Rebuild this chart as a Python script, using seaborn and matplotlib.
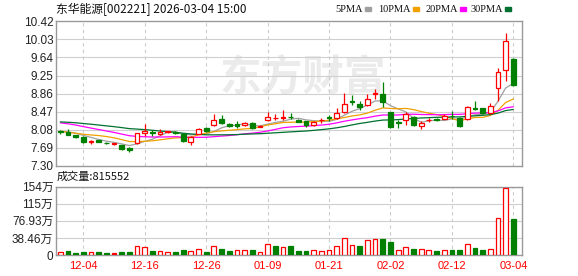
import numpy as np
import pandas as pd
import matplotlib
matplotlib.use('Agg')
import matplotlib.pyplot as plt
from matplotlib.patches import Rectangle
import seaborn as sns

# 交易日
dates = ['12-01', '12-02', '12-03', '12-04', '12-05', '12-08', '12-09', '12-10', '12-11', '12-12',
         '12-15', '12-16', '12-17', '12-18', '12-19', '12-22', '12-23', '12-24', '12-25', '12-26',
         '12-29', '12-30', '12-31', '01-05', '01-06', '01-07', '01-08', '01-09', '01-12', '01-13',
         '01-14', '01-15', '01-16', '01-19', '01-20', '01-21', '01-22', '01-23', '01-26', '01-27',
         '01-28', '01-29', '01-30', '02-02', '02-03', '02-04', '02-05', '02-06', '02-09', '02-10',
         '02-11', '02-12', '02-13', '02-24', '02-25', '02-26', '02-27', '03-02', '03-03', '03-04']

open_ = [8.06, 8.03, 7.96, 7.93, 7.81, 7.86, 7.80, 7.78, 7.75, 7.69,
         7.80, 8.02, 8.04, 7.98, 8.03, 8.03, 7.98, 7.81, 8.00, 8.12,
         8.19, 8.31, 8.21, 8.21, 8.18, 8.23, 8.15, 8.29, 8.33, 8.34,
         8.36, 8.30, 8.26, 8.18, 8.29, 8.35, 8.33, 8.47, 8.69, 8.64,
         8.62, 8.86, 8.86, 8.46, 8.24, 8.29, 8.36, 8.16, 8.29, 8.31,
         8.32, 8.38, 8.34, 8.31, 8.54, 8.55, 8.44, 8.98, 9.37, 9.60]
high = [8.08, 8.10, 7.97, 7.94, 7.86, 7.87, 7.81, 7.80, 7.76, 7.71,
        8.02, 8.21, 8.08, 8.09, 8.06, 8.06, 8.01, 7.94, 8.11, 8.14,
        8.41, 8.39, 8.23, 8.26, 8.24, 8.24, 8.18, 8.46, 8.41, 8.50,
        8.44, 8.31, 8.27, 8.26, 8.34, 8.40, 8.55, 8.87, 8.84, 8.71,
        8.86, 8.96, 9.10, 8.47, 8.29, 8.46, 8.38, 8.27, 8.34, 8.33,
        8.41, 8.48, 8.35, 8.59, 8.69, 8.56, 8.66, 9.41, 10.16, 9.62]
low = [8.00, 7.96, 7.91, 7.80, 7.78, 7.81, 7.78, 7.76, 7.65, 7.61,
       7.78, 7.95, 7.95, 7.97, 8.02, 7.98, 7.82, 7.76, 7.99, 8.03,
       8.16, 8.21, 8.14, 8.12, 8.16, 8.09, 8.14, 8.28, 8.29, 8.29,
       8.31, 8.24, 8.14, 8.17, 8.22, 8.28, 8.32, 8.44, 8.62, 8.51,
       8.60, 8.74, 8.57, 8.12, 8.11, 8.19, 8.17, 8.09, 8.25, 8.26,
       8.31, 8.31, 8.15, 8.30, 8.50, 8.43, 8.43, 8.69, 9.14, 9.02]
close = [8.04, 7.97, 7.92, 7.82, 7.83, 7.82, 7.79, 7.78, 7.66, 7.65,
         8.01, 8.05, 8.02, 8.03, 8.05, 8.02, 7.83, 7.93, 8.10, 8.06,
         8.30, 8.22, 8.16, 8.16, 8.22, 8.12, 8.16, 8.35, 8.34, 8.35,
         8.35, 8.25, 8.18, 8.25, 8.30, 8.34, 8.45, 8.64, 8.67, 8.58,
         8.74, 8.87, 8.67, 8.14, 8.23, 8.42, 8.19, 8.23, 8.30, 8.30,
         8.38, 8.37, 8.17, 8.57, 8.53, 8.44, 8.60, 9.33, 10.00, 9.04]

# 成交量 (万手)
volume = [6.6, 8.8, 4.4, 6.6, 5.9, 6.6, 4.4, 4.4, 6.6, 6.6,
          20.6, 17.6, 8.8, 8.1, 6.6, 6.6, 11.0, 8.8, 13.2, 6.6,
          20.6, 13.2, 8.8, 10.3, 10.3, 11.0, 6.6, 25.7, 19.8, 17.6,
          19.8, 8.8, 8.8, 11.0, 8.8, 11.0, 19.8, 37.5, 22.0, 19.8,
          33.0, 35.3, 36.0, 28.7, 11.0, 17.6, 13.2, 13.2, 11.0, 8.8,
          11.0, 11.0, 11.0, 24.3, 16.2, 11.0, 13.2, 83.8, 150.0, 81.5552]
# 1 = 红色空心, 0 = 绿色, 2 = 红色实心
vol_dir = [1, 0, 0, 0, 1, 0, 0, 2, 0, 0,
           1, 1, 0, 1, 1, 0, 0, 1, 1, 0,
           1, 0, 0, 1, 1, 0, 1, 1, 0, 1,
           0, 0, 0, 1, 1, 1, 1, 1, 1, 0,
           1, 1, 0, 0, 1, 1, 0, 1, 1, 0,
           1, 0, 0, 1, 0, 0, 1, 1, 1, 0]

# 图中均线起点估算出的前期收盘价(用于计算均线)
prior_close = [8.20, 8.25, 8.30, 8.28, 8.35, 8.32, 8.30, 8.27, 8.31, 8.32,
               8.38, 8.45, 8.50, 8.47, 8.44, 8.42, 8.40, 8.38, 8.35, 8.31,
               8.20, 8.12, 8.05, 7.98, 7.95, 8.00, 8.06, 8.05, 8.05]

price_ticks = [7.30, 7.69, 8.08, 8.47, 8.86, 9.25, 9.64, 10.03, 10.42]
vol_ticks = [0, 38.465, 76.93, 115.395, 153.86]
vol_tick_labels = ['0', '38.46万', '76.93万', '115万', '154万']
date_labels = ['12-04', '12-16', '12-26', '01-09', '01-21', '02-02', '02-12', '03-04']
ma_periods = [5, 10, 20, 30]
ma_colors = ['#a0a0a0', '#f0a000', '#ff00ff', '#007030']

sns.set_style('white')
plt.rcParams['font.family'] = ['Liberation Sans', 'Noto Sans CJK SC']

df = pd.DataFrame({'date': dates, 'open': open_, 'high': high, 'low': low,
                   'close': close, 'volume': volume, 'vdir': vol_dir})
df['x'] = np.arange(len(df))
all_close = pd.Series(prior_close + close)
for p in ma_periods:
    df[f'ma{p}'] = all_close.rolling(p).mean().iloc[len(prior_close):].values

RED, GREEN = '#ff0000', '#008000'
W, H = 578, 276
fig = plt.figure(figsize=(W / 100, H / 100), dpi=100)


def box(l, t, r, b):
    return [l / W, 1 - b / H, (r - l) / W, (b - t) / H]


ax = fig.add_axes(box(56, 21.2, 522, 166))
axv = fig.add_axes(box(56, 186.7, 522, 255))
xlim = (-0.56, 60.13)
tick_pos = [dates.index(d) for d in date_labels]

for a in (ax, axv):
    a.set_xlim(*xlim)
    for s in a.spines.values():
        s.set_color('#999999')
        s.set_linewidth(1)
    for xp in tick_pos:
        a.axvline(xp, color='#cccccc', lw=0.8, ls=(0, (3, 3)), zorder=1)

# K线
ax.set_ylim(price_ticks[0], price_ticks[-1])
for y in price_ticks[1:-1]:
    ax.axhline(y, color='#cfcfcf', lw=0.8, zorder=1)
ax.text(0.53, 0.61, '东方财富', transform=ax.transAxes, ha='center', va='center',
        fontsize=30, fontweight='bold', color='#ebebeb', zorder=0.5,
        family=['Noto Sans CJK SC'])

up = df['close'] > df['open']
down = df['close'] < df['open']
cc = np.where(down, GREEN, RED)
ax.vlines(df['x'], df['low'], df['high'], colors=cc, lw=0.9, zorder=3)
body_lo = df[['open', 'close']].min(axis=1)
body_h = (df['close'] - df['open']).abs().clip(lower=0.006)
ax.bar(df['x'][up], body_h[up], bottom=body_lo[up], width=0.62,
       facecolor='white', edgecolor=RED, lw=0.9, zorder=4)
ax.bar(df['x'][~up], body_h[~up], bottom=body_lo[~up], width=0.62,
       facecolor=cc[~up], edgecolor=cc[~up], lw=0.9, zorder=4)

for p, c in zip(ma_periods, ma_colors):
    sns.lineplot(data=df, x='x', y=f'ma{p}', color=c, lw=0.9, ax=ax, zorder=2)

ax.set_yticks(price_ticks)
ax.set_yticklabels([f'{v:.2f}' for v in price_ticks])
ax.set_xticks([])
ax.set_xlabel('')
ax.set_ylabel('')
ax.tick_params(axis='y', length=0, pad=2, labelsize=8.5, labelcolor='#222222')

# 成交量
axv.set_ylim(0, vol_ticks[-1])
for y in vol_ticks[1:]:
    axv.axhline(y, color='#cfcfcf', lw=0.8, zorder=1)
vface = ['white' if d == 1 else (RED if d == 2 else GREEN) for d in vol_dir]
vedge = [GREEN if d == 0 else RED for d in vol_dir]
axv.bar(df['x'], df['volume'], width=0.62, facecolor=vface, edgecolor=vedge,
        lw=0.9, zorder=3)
axv.set_yticks(vol_ticks)
axv.set_yticklabels(vol_tick_labels)
axv.set_xticks(tick_pos)
axv.set_xticklabels(date_labels)
axv.tick_params(axis='y', length=0, pad=2, labelsize=8.5, labelcolor='#222222')
axv.tick_params(axis='x', length=0, pad=4, labelsize=8, labelcolor=RED)

# 标题与图例
fig.text(56 / W, 1 - 9 / H, '东华能源[002221] 2026-03-04 15:00', fontsize=8.5,
         va='center', ha='left', color='#111111', family=['Noto Sans CJK SC'])
fig.text(57 / W, 1 - 177 / H, '成交量:815552', fontsize=8, va='center', ha='left',
         color='#111111', family=['Noto Sans CJK SC'])
square_x = [365, 413, 460, 505]
for p, c, sx in zip(ma_periods, ma_colors, square_x):
    fig.text((sx - 2) / W, 1 - 9 / H, f'{p}PMA', fontsize=7.5, va='center', ha='right',
             color='#111111', family=['Liberation Serif'])
    fig.patches.append(Rectangle((sx / W, 1 - 11 / H), 6 / W, 4 / H, color=c,
                                 transform=fig.transFigure, figure=fig))

fig.savefig('out.png', dpi=100)
